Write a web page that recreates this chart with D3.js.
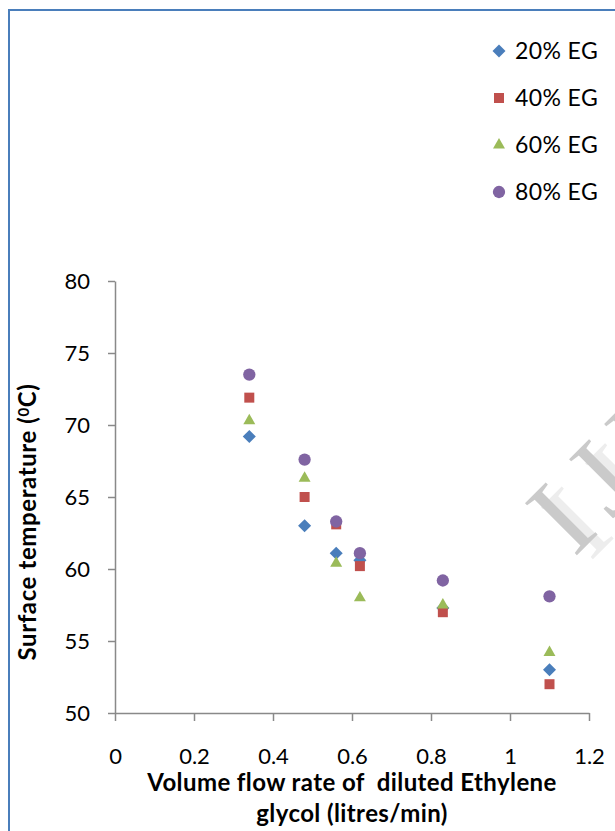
<!DOCTYPE html>
<html>
<head>
<meta charset="utf-8">
<script src="https://cdn.jsdelivr.net/npm/d3@7.9.0/dist/d3.min.js"></script>
<style>
  html, body { margin: 0; padding: 0; background: #fff; }
  svg { display: block; font-family: Lato, "Open Sans", sans-serif; }
  .axis path, .axis line { stroke: #898989; stroke-width: 1.5; }
  .axis text { font-size: 22px; fill: #000; font-family: Lato, sans-serif; }
</style>
</head>
<body>
<svg id="chart" width="615" height="831"></svg>
<script>
// values
const flowRates = [0.34, 0.48, 0.56, 0.62, 0.83, 1.1];
const eg20 = [69.2, 63.0, 61.1, 60.6, 57.3, 53.0];
const eg40 = [71.9, 65.0, 63.1, 60.2, 57.0, 52.0];
const eg60 = [70.3, 66.3, 60.4, 58.0, 57.5, 54.2];
const eg80 = [73.5, 67.6, 63.3, 61.1, 59.2, 58.1];
const seriesNames = ['20% EG', '40% EG', '60% EG', '80% EG'];
const xTicks = [0, 0.2, 0.4, 0.6, 0.8, 1, 1.2];
const yTicks = [50, 55, 60, 65, 70, 75, 80];

const series = [eg20, eg40, eg60, eg80].map((vals, i) => ({
    name: seriesNames[i],
    points: vals.map((v, j) => ({ x: flowRates[j], y: v }))
}));

const colors = ['#4a7ebb', '#c0504d', '#9bbb59', '#8064a2'];
const shapes = [
    { type: d3.symbolSquare, size: 85, rotate: 45 },  // diamond
    { type: d3.symbolSquare, size: 100, rotate: 0 },
    { type: d3.symbolTriangle, size: 62, rotate: 0 },
    { type: d3.symbolCircle, size: 119, rotate: 0 }
];

const svg = d3.select('#chart');

// outer frame (only top/left visible in the crop)
svg.append('rect')
    .attr('x', 9).attr('y', 10)
    .attr('width', 700).attr('height', 900)
    .attr('fill', 'none')
    .attr('stroke', '#4a7ebb')
    .attr('stroke-width', 2);

// watermark, cropped by the right edge like in the source
const wm = svg.append('g')
    .attr('font-family', '"Liberation Serif", "DejaVu Serif", serif')
    .attr('font-size', 112)
    .attr('letter-spacing', 16);
wm.append('text')
    .attr('transform', 'translate(590,562) rotate(-45)')
    .attr('fill', '#ededed')
    .text('IJERT');
wm.append('text')
    .attr('transform', 'translate(574,558) rotate(-45)')
    .attr('fill', '#cacaca')
    .text('IJERT');

const x = d3.scaleLinear().domain([0, 1.2]).range([115, 589]);
const y = d3.scaleLinear().domain([50, 80]).range([713, 281]);

svg.append('g')
    .attr('class', 'axis')
    .attr('transform', 'translate(115,0)')
    .call(d3.axisLeft(y).tickValues(yTicks).tickSize(7).tickSizeOuter(0).tickPadding(18));

svg.append('g')
    .attr('class', 'axis')
    .attr('transform', 'translate(0,713)')
    .call(d3.axisBottom(x).tickValues(xTicks).tickSize(8).tickSizeOuter(0).tickPadding(27)
        .tickFormat((d) => String(d)));

// markers
series.forEach((s, i) => {
    const sym = d3.symbol().type(shapes[i].type).size(shapes[i].size);
    svg.append('g')
        .selectAll('path')
        .data(s.points)
        .join('path')
        .attr('d', sym)
        .attr('fill', colors[i])
        .attr('transform', (d) => `translate(${x(d.x)},${y(d.y)}) rotate(${shapes[i].rotate})`);
});

// legend
const legend = svg.append('g');
series.forEach((s, i) => {
    const row = legend.append('g').attr('transform', `translate(499,${51 + i * 47})`);
    row.append('path')
        .attr('d', d3.symbol().type(shapes[i].type).size(shapes[i].size))
        .attr('fill', colors[i])
        .attr('transform', `rotate(${shapes[i].rotate})`);
    row.append('text')
        .attr('x', 16)
        .attr('dy', '0.36em')
        .attr('font-size', 23)
        .attr('letter-spacing', 0.4)
        .text(s.name);
});

// axis titles
const xTitle = svg.append('text')
    .attr('text-anchor', 'middle')
    .attr('font-size', 24)
    .attr('letter-spacing', 0.4)
    .attr('font-weight', 'bold')
    .style('white-space', 'pre');
xTitle.append('tspan').attr('x', 352).attr('y', 791).text('Volume flow rate of  diluted Ethylene');
xTitle.append('tspan').attr('x', 352).attr('y', 822).text('glycol (litres/min)');

const yTitle = svg.append('text')
    .attr('transform', 'translate(36,522) rotate(-90)')
    .attr('text-anchor', 'middle')
    .attr('font-size', 24)
    .attr('letter-spacing', 0.6)
    .attr('font-weight', 'bold');
yTitle.append('tspan').text('Surface temperature (');
yTitle.append('tspan').attr('font-size', 15).attr('baseline-shift', '45%').text('0');
yTitle.append('tspan').text('C)');
</script>
</body>
</html>
